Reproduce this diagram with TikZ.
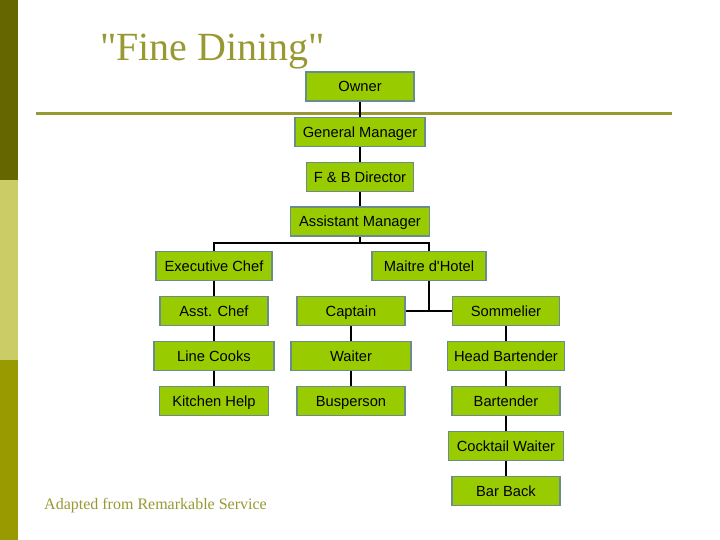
\documentclass[tikz,border=0pt]{standalone}
\usepackage{fontspec}
\setmainfont{Liberation Serif}[Ligatures=TeXOff]
\setsansfont{Liberation Sans}[Ligatures=TeXOff]
\definecolor{barA}{HTML}{666600}
\definecolor{barB}{HTML}{CCCC66}
\definecolor{barC}{HTML}{999900}
\definecolor{olive}{HTML}{999933}
\definecolor{boxfill}{HTML}{99CC00}
\definecolor{boxedge}{HTML}{6A8C8A}
\begin{document}
\begin{tikzpicture}[x=1pt,y=-1pt,
  role/.style={draw=boxedge,fill=boxfill,line width=1.6pt,minimum height=29pt,inner sep=0pt,
    text height=10.5pt,text depth=0pt,
    font=\sffamily\fontsize{14.7}{17}\selectfont,text=black},
  link/.style={draw=black,line width=1.8pt}]
\useasboundingbox (0,0) rectangle (720,540);
\fill[white] (0,0) rectangle (720,540);
% left bars
\fill[barA] (0,0) rectangle (18,180);
\fill[barB] (0,180) rectangle (18,360);
\fill[barC] (0,360) rectangle (18,540);
% title
\node[anchor=base west,inner sep=0pt,text=olive,font=\fontsize{40}{44}\selectfont] (title) at (100,61) {"Fine Dining"};
% rule
\draw[olive,line width=3pt] (36,114) -- (672,114);
% nodes
\node[role,minimum width=108pt] (own) at (360,86.5) {Owner};
\node[role,minimum width=130pt] (gm) at (360,132) {General Manager};
\node[role,minimum width=107pt] (fb) at (360,177) {F \& B Director};
\node[role,minimum width=139pt] (am) at (360,221.5) {Assistant Manager};
\node[role,minimum width=116pt] (ec) at (214,266) {Executive Chef};
\node[role,minimum width=114pt] (md) at (429,266) {Maitre d'Hotel};
\node[role,minimum width=108pt] (ac) at (214,311) {Asst. Chef};
\node[role,minimum width=108pt] (cap) at (351,311) {Captain};
\node[role,minimum width=107pt] (som) at (506,311) {Sommelier};
\node[role,minimum width=120pt] (lc) at (214,356) {Line Cooks};
\node[role,minimum width=120pt] (wt) at (351,356) {Waiter};
\node[role,minimum width=117pt] (hb) at (506,356) {Head Bartender};
\node[role,minimum width=109pt] (kh) at (214,401) {Kitchen Help};
\node[role,minimum width=108pt] (bp) at (351,401) {Busperson};
\node[role,minimum width=108pt] (bt) at (506,401) {Bartender};
\node[role,minimum width=115pt] (cw) at (506,446) {Cocktail Waiter};
\node[role,minimum width=108pt] (bb) at (506,491) {Bar Back};
% footer
\node[anchor=base west,inner sep=0pt,text=olive,font=\fontsize{16}{19}\selectfont] (src) at (44,509) {Adapted from Remarkable Service};
% connectors
\coordinate (bus) at (360,243);
\draw[link] (own) -- (gm);
\draw[link] (gm) -- (fb);
\draw[link] (fb) -- (am);
\draw[link] (am) -- (bus);
\draw[link] (ec.north) |- (bus) -| (md.north);
\draw[link] (md.south) -- (md.south |- cap.east);
\draw[link] (cap.east) -- (som.west);
\draw[link] (ec) -- (ac);
\draw[link] (ac) -- (lc);
\draw[link] (lc) -- (kh);
\draw[link] (cap) -- (wt);
\draw[link] (wt) -- (bp);
\draw[link] (som) -- (hb);
\draw[link] (hb) -- (bt);
\draw[link] (bt) -- (cw);
\draw[link] (cw) -- (bb);
\end{tikzpicture}
\end{document}
